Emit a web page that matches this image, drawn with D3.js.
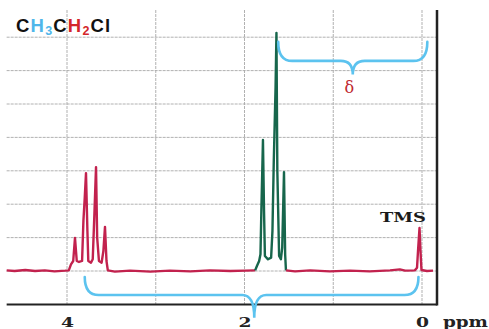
<!DOCTYPE html>
<html>
<head>
<meta charset="utf-8">
<script src="https://cdn.jsdelivr.net/npm/d3@7"></script>
<style>
  html, body { margin: 0; padding: 0; background: #fff; }
  #chart { width: 489px; height: 329px; }
</style>
</head>
<body>
<div id="chart"></div>
<script>
// spectrum traces as [ppm, intensity] (intensity in grid units, baseline = 0)
const redLeft = [
  [4.68, 0.02], [4.59, 0.0], [4.47, 0.03], [4.36, 0.0], [4.25, 0.02], [4.14, -0.01],
  [4.02, 0.01], [3.98, 0.02], [3.955, 0.2], [3.93, 0.3], [3.91, 0.99], [3.89, 0.3],
  [3.865, 0.27], [3.83, 0.3], [3.815, 1.5], [3.80, 2.2], [3.786, 2.93], [3.77, 1.2],
  [3.76, 0.3], [3.73, 0.25], [3.71, 0.35], [3.69, 1.8], [3.673, 3.11], [3.66, 1.0],
  [3.64, 0.3], [3.61, 0.25], [3.59, 0.6], [3.572, 1.32], [3.555, 0.3], [3.54, 0.02],
  [3.46, -0.02], [3.29, 0.01], [3.06, -0.02], [2.84, 0.01], [2.61, -0.01], [2.39, 0.02],
  [2.16, 0.0], [1.99, 0.01], [1.88, 0.02]
];
const greenTrace = [
  [1.88, 0.02], [1.86, 0.15], [1.835, 0.3], [1.82, 0.5], [1.81, 1.8], [1.792, 3.92],
  [1.78, 1.8], [1.77, 0.45], [1.735, 0.35], [1.70, 0.4], [1.685, 1.2], [1.67, 3.3],
  [1.65, 5.5], [1.64, 7.13], [1.63, 3.0], [1.61, 0.45], [1.59, 0.35], [1.575, 0.7],
  [1.555, 2.96], [1.542, 0.5], [1.533, 0.02]
];
const redRight = [
  [1.533, 0.02], [1.43, -0.01], [1.26, 0.02], [1.04, -0.01], [0.81, 0.01], [0.59, -0.01],
  [0.36, 0.02], [0.25, 0.05], [0.19, 0.01], [0.08, 0.02], [0.056, 0.1], [0.045, 0.6],
  [0.028, 1.29], [0.017, 0.6], [0.006, 0.03], [-0.056, 0.0], [-0.124, 0.01]
];

const ppmTicks = [4, 2, 0];
const gridPpm = [4, 3, 2, 1, 0];
const gridLevels = [0, 1, 2, 3, 4, 5, 6, 7];

// braces: [ppmStart, ppmEnd, ppmTip, yEnd, yMid, yTip] in intensity units
const bottomBrace = [3.8, 0.04, 1.89, -0.18, -0.72, -1.4];
const topBrace = [1.62, -0.06, 0.78, 6.86, 6.29, 5.88];

const width = 489, height = 329;
const x = d3.scaleLinear().domain([4, 0]).range([67, 422]);
const y = d3.scaleLinear().domain([0, 7]).range([271, 37.2]);
const plotLeft = x(4.68), plotRight = 437, plotTop = 10, plotBottom = y(-1);

const svg = d3.select('#chart').append('svg')
  .attr('width', width)
  .attr('height', height);

// grid
svg.append('g')
  .selectAll('line')
  .data(gridLevels)
  .join('line')
  .attr('x1', plotLeft).attr('x2', plotRight)
  .attr('y1', d => y(d)).attr('y2', d => y(d))
  .attr('stroke', '#a8a8a8')
  .attr('stroke-width', 0.9)
  .attr('stroke-dasharray', '3,1');

svg.append('g')
  .selectAll('line')
  .data(gridPpm)
  .join('line')
  .attr('x1', d => x(d)).attr('x2', d => x(d))
  .attr('y1', plotTop).attr('y2', plotBottom)
  .attr('stroke', '#a8a8a8')
  .attr('stroke-width', 0.9)
  .attr('stroke-dasharray', '3,1');

// frame
svg.append('line')
  .attr('x1', plotLeft).attr('x2', plotRight)
  .attr('y1', plotBottom).attr('y2', plotBottom)
  .attr('stroke', '#222').attr('stroke-width', 2);
svg.append('line')
  .attr('x1', plotRight).attr('x2', plotRight)
  .attr('y1', plotTop).attr('y2', plotBottom + 1)
  .attr('stroke', '#222').attr('stroke-width', 2.5);

// axis labels
const xAxis = svg.append('g')
  .attr('transform', `translate(0,${plotBottom})`)
  .call(d3.axisBottom(x).tickValues(ppmTicks).tickSize(0).tickPadding(13).tickFormat(d3.format('d')));
xAxis.select('.domain').remove();
xAxis.selectAll('text')
  .attr('font-family', 'DejaVu Serif')
  .attr('font-weight', 'bold')
  .attr('font-size', '13px')
  .attr('fill', '#222')
  .attr('textLength', 13)
  .attr('lengthAdjust', 'spacingAndGlyphs');

svg.append('text')
  .attr('x', 443).attr('y', 327)
  .attr('font-family', 'DejaVu Serif')
  .attr('font-weight', 'bold')
  .attr('font-size', '14px')
  .attr('fill', '#222')
  .attr('textLength', 45)
  .attr('lengthAdjust', 'spacingAndGlyphs')
  .text('ppm');

// spectrum
const line = d3.line().x(d => x(d[0])).y(d => y(d[1]));
[[redLeft, '#c2224e'], [greenTrace, '#17664c'], [redRight, '#c2224e']].forEach(([data, c]) => {
  svg.append('path')
    .attr('d', line(data))
    .attr('fill', 'none')
    .attr('stroke', c)
    .attr('stroke-width', 2.4)
    .attr('stroke-linejoin', 'round');
});

// braces
function bracePath(b) {
  const x1 = x(b[0]), x2 = x(b[1]), xm = x(b[2]);
  const ye = y(b[3]), ym = y(b[4]), yt = y(b[5]);
  const rx = 14, tx = 12;
  const p = d3.path();
  p.moveTo(x1, ye);
  p.quadraticCurveTo(x1, ym, x1 + rx, ym);
  p.lineTo(xm - tx, ym);
  p.quadraticCurveTo(xm, ym, xm, yt);
  p.quadraticCurveTo(xm, ym, xm + tx, ym);
  p.lineTo(x2 - rx, ym);
  p.quadraticCurveTo(x2, ym, x2, ye);
  return p.toString();
}
svg.selectAll('.brace')
  .data([bottomBrace, topBrace])
  .join('path')
  .attr('class', 'brace')
  .attr('d', bracePath)
  .attr('fill', 'none')
  .attr('stroke', '#5cc3ef')
  .attr('stroke-width', 2.6)
  .attr('stroke-linecap', 'round');

svg.append('text')
  .attr('x', x(0.82)).attr('y', 93)
  .attr('text-anchor', 'middle')
  .attr('font-family', 'DejaVu Serif')
  .attr('font-size', '16px')
  .attr('fill', '#c0282f')
  .text('δ');

svg.append('text')
  .attr('x', 380).attr('y', 222)
  .attr('font-family', 'DejaVu Serif')
  .attr('font-weight', 'bold')
  .attr('font-size', '12.5px')
  .attr('fill', '#1a1a1a')
  .attr('textLength', 46)
  .attr('lengthAdjust', 'spacingAndGlyphs')
  .text('TMS');

// formula title
const title = svg.append('text')
  .attr('x', 16).attr('y', 32)
  .attr('font-family', 'Liberation Sans')
  .attr('font-weight', 'bold')
  .attr('font-size', '18.5px')
  .attr('letter-spacing', '1.2px')
  .attr('fill', '#111');
const parts = [
  ['C', '#111', false], ['H', '#4fb6ea', false], ['3', '#4fb6ea', true],
  ['C', '#111', false], ['H', '#d4262a', false], ['2', '#d4262a', true],
  ['Cl', '#111', false]
];
let shifted = false;
parts.forEach(([t, c, sub]) => {
  let dy = 0;
  if (sub && !shifted) { dy = 3; shifted = true; }
  else if (!sub && shifted) { dy = -3; shifted = false; }
  title.append('tspan')
    .attr('fill', c)
    .attr('font-size', sub ? '12.5px' : '18.5px')
    .attr('dy', dy)
    .text(t);
});
</script>
</body>
</html>
